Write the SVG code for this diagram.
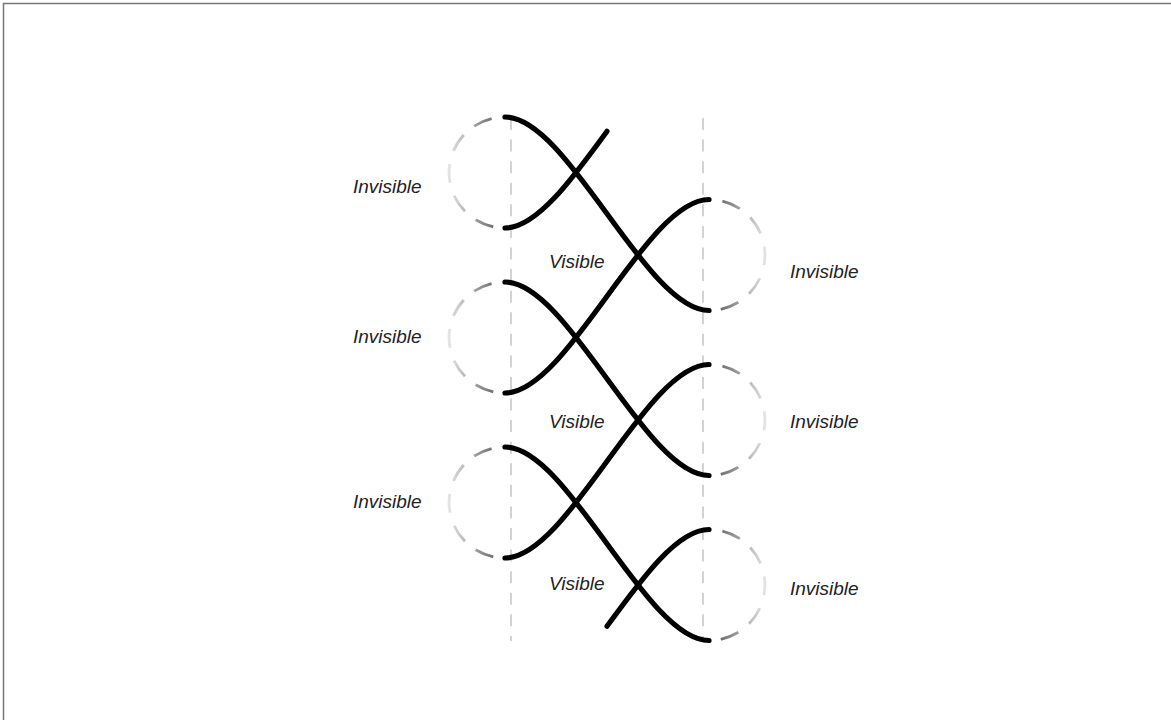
<svg xmlns="http://www.w3.org/2000/svg" width="1171" height="720" viewBox="0 0 1171 720">
  <style>
    .frame { stroke: #777; stroke-width: 1.5; fill: none; }
    .guide { stroke: #c8c8c8; stroke-width: 1.6; stroke-dasharray: 12 9.58; fill: none; }
    .strand { stroke: #000; stroke-width: 5.2; fill: none; stroke-linecap: round; }
    .ghostL { stroke: url(#gL); stroke-width: 2.8; fill: none; stroke-dasharray: 19 13.6; stroke-dashoffset: 19; }
    .ghostR { stroke: url(#gR); stroke-width: 2.8; fill: none; stroke-dasharray: 19 13.6; stroke-dashoffset: 19; }
    .lbl { font-family: "Liberation Sans", Arial, sans-serif; font-style: italic; font-size: 19px; fill: #222; }
  </style>
  <defs>
    <linearGradient id="gL" x1="0" y1="0" x2="1" y2="0">
      <stop offset="0" stop-color="#e4e4e4"/>
      <stop offset="1" stop-color="#505050"/>
    </linearGradient>
    <linearGradient id="gR" x1="1" y1="0" x2="0" y2="0">
      <stop offset="0" stop-color="#e4e4e4"/>
      <stop offset="1" stop-color="#505050"/>
    </linearGradient>
  </defs>
  <rect width="1171" height="720" fill="#fff"/>
  <path class="frame" d="M3.5 720 V3.5 H1171"/>

  <g id="guides">
    <line class="guide" x1="511" y1="118" x2="511" y2="641"/>
    <line class="guide" x1="703" y1="118" x2="703" y2="641"/>
  </g>

  <g id="invisible-left-1">
    <path class="ghostL" d="M505 117 A56 55.5 0 0 0 505 228"/>
    <text class="lbl" x="353" y="192.5">Invisible</text>
  </g>
  <g id="invisible-left-2">
    <path class="ghostL" d="M505 282 A56 55.5 0 0 0 505 393"/>
    <text class="lbl" x="353" y="342.5">Invisible</text>
  </g>
  <g id="invisible-left-3">
    <path class="ghostL" d="M505 447 A56 55.5 0 0 0 505 558"/>
    <text class="lbl" x="353" y="507.5">Invisible</text>
  </g>
  <g id="invisible-right-1">
    <path class="ghostR" d="M709 199.5 A56 55.5 0 0 1 709 310.5"/>
    <text class="lbl" x="790" y="277.5">Invisible</text>
  </g>
  <g id="invisible-right-2">
    <path class="ghostR" d="M709 364.5 A56 55.5 0 0 1 709 475.5"/>
    <text class="lbl" x="790" y="427.5">Invisible</text>
  </g>
  <g id="invisible-right-3">
    <path class="ghostR" d="M709 529.5 A56 55.5 0 0 1 709 640.5"/>
    <text class="lbl" x="790" y="594.5">Invisible</text>
  </g>

  <g id="visible-1"><text class="lbl" x="549" y="267.5">Visible</text></g>
  <g id="visible-2"><text class="lbl" x="549" y="427.5">Visible</text></g>
  <g id="visible-3"><text class="lbl" x="549" y="589.5">Visible</text></g>

  <g id="connectors">
    <path class="strand" d="M505 117 C568 117 646 310.5 709 310.5"/>
    <path class="strand" d="M505 282 C568 282 646 475.5 709 475.5"/>
    <path class="strand" d="M505 447 C568 447 646 640.5 709 640.5"/>
    <path class="strand" d="M505 228 C536.5 228 571.75 179.6 607 131.25"/>
    <path class="strand" d="M505 393 C568 393 646 199.5 709 199.5"/>
    <path class="strand" d="M505 558 C568 558 646 364.5 709 364.5"/>
    <path class="strand" d="M607 626.25 C642.25 577.9 677.5 529.5 709 529.5"/>
  </g>
</svg>
